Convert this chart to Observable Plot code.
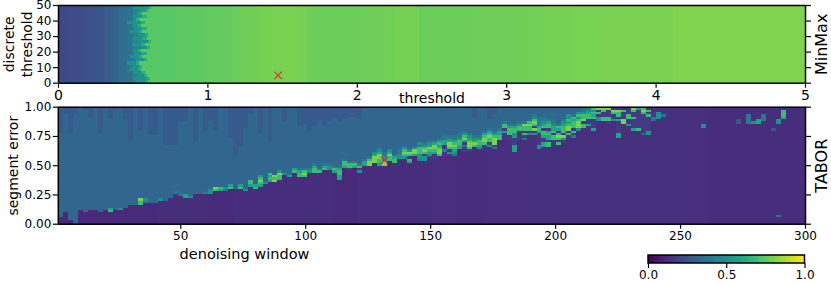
<!DOCTYPE html>
<html>
<head>
<meta charset="utf-8">
<script src="https://cdn.jsdelivr.net/npm/d3@7"></script>
<script src="https://cdn.jsdelivr.net/npm/@observablehq/plot@0.6"></script>
<style>
html,body{margin:0;padding:0;background:#fff}
#root{position:relative;width:831px;height:284px;overflow:hidden}
#root>svg,#root>div{position:absolute;left:0}
</style>
</head>
<body>
<div id="root"></div>
<script>
// ---------- MinMax panel ----------
const minmaxBest = {threshold: 1.47, discrete: 5};
// value per 0.05 step of threshold
const minmaxColumn = [
 .22,.23,.23,.24,.25,.26,.29,.31,.35,.38,.42,.46,
 .74,.74,.74,.745,.75,.75,.75,.755,.76,.76,.765,.77,.775,.78,.785,.79,.795,.80,.80,.80,
 .79,.78,.775,.775,.775,.775,.775,.775,.775,.78,.78,.785,.785,.79,.79,.795,.77,.77,.775,.775,.775,.775,.775,.775,.78,.78,.78,.78,
 .78,.78,.785,.785,.785,.79,.79,.79,.79,.795,.795,.795,.795,.80,.80,.80,.80,.80,.80,.80,.80,.80,.805,.805,.805,.805,.805,.805,.805,.805,
 .805,.805,.805,.805,.805,.805,.805,.805,.805,.805
];
// threshold where the jump to green happens, per row of 2 units (bottom up)
const minmaxEdge = [.58,.59,.57,.55,.53,.54,.52,.57,.54,.56,.53,.59,.55,.60,.56,.58,.54,.56,.53,.55,.52,.56,.54,.58,.60];
// threshold where the teal fringe starts, per row
const minmaxFringe = [.52,.50,.53,.50,.47,.49,.46,.52,.48,.51,.50,.55,.49,.54,.50,.53,.47,.51,.49,.46,.50,.49,.52,.53,.50];

// ---------- TABOR panel, columns of 2 window units ----------
const taborBest = {window: 131.5, error: .545};
const taborEdge = [
 3,5,2,0,6,5,6,6,5,6,5,6,6,7,8,8,8,9,9,9,10,10,11,13,
 12,11,11,13,13,13,13,14,14,14,15,15,15,14,16,15,16,17,18,18,19,21,20,22,
 20,20,22,22,22,23,23,22,19,24,23,24,22,25,25,26,25,25,27,26,28,28,26,29,
 27,27,28,28,29,29,29,29,32,31,31,33,32,33,33,32,36,37,36,31,36,36,38,38,
 32,33,33,34,34,35,37,37,40,41,41,40,44,44,43,44,37,43,42,40,40,38,38,44,
 45,46,50,50,50,50,50,50,50,41,50,50,50,50,50,50,43,50,43,43,43,44,50,40,43,45,50,50,50,50
];
const taborBand = [
 "","","","","","","","","","","76","","5","","","","778","45","","","5","","","4",
 "4","66","5","","","4","55","78","67","45","76","","76","5","677","76","67875","5","6767","878","7785","5","6","76",
 "7764","7874","54","7764","74","764","554","674","667764","6774","1774","674","5174","664","8874","88865","67788654","885544","77865","7764","5544","57875","671785","6885",
 "45577745","55178754","15678654","11678864","78876754","114116644","151788654","456787644","6677544","114168754","17887654","78654","567754","1788764","51778764","41888754","77664","1161774","1177764","666111557764","11117754","41717784","5177874","518178754",
 "55111116764444","6611677176544","771667617764","11771766544","717871674","1581777654","1718876755","4171777674","58887575","77187754","161177654","6111176757","551718","771178","1771118","511781","661111161778","881117","5117711","6111171178","71111111167","311111111787","55111111717","4411",
 "555","4","","","","","","","","55","","","","","","","33","","4444","5","66","444","","3","55","6777","","","",""
];
const bandLevels = {"1":.17,"3":.28,"4":.4,"5":.5,"6":.58,"7":.68,"8":.8};
// purple floor, per five columns
const taborFloor = [.12,.12,.12,.12,.13,.13,.12,.13,.13,.13,.13,.12,.13,.13,.13,.135,.13,.135,.135,.14,.14,.14,.14,.14,.14,.135,.13,.13,.13,.13];
const tealLevel = .33, streakLevel = .28, tealEndsAtColumn = 106;
const streakColumns = [0,1,2,3,5,6,8,10,11,13,14,16,18,19,21,22,23,24,25,27,28,29,30,31,34,35,36,37,38,40,42,45,48,49,50,51,52,53,54,55,56,57,58,59,60,83,86,87];
const streakDepths  = [11,3,11,3,1,4,11,5,1,5,14,10,12,12,16,16,16,6,6,15,1,10,6,10,13,21,17,9,3,11,15,6,8,7,10,8,6,8,6,4,6,5,4,4,5,4,5,3];
const taborSpots = [[144,3,.4]];

const colorStops = d3.range(128).map(i => i / 128);
const colorTicks = [0,.5,1];
const thresholdTicks = [0,1,2,3,4,5];
const discreteTicks = [0,10,20,30,40,50];
const windowTicks = [50,100,150,200,250,300];
const errorTicks = [0,.25,.5,.75,1];

// ---------- build rasters ----------
const mmW = 500, mmH = minmaxEdge.length, minmaxValues = [];
for (let r = 0; r < mmH; r++) for (let i = 0; i < mmW; i++) {
  const t = i / 100;
  let v = minmaxColumn[Math.min(Math.floor(t / .05), minmaxColumn.length - 1)];
  if (t < .65) {
    if (t >= minmaxEdge[r] + .02) v = .74;
    else if (t >= minmaxEdge[r]) v = .62;
    else if (t >= minmaxFringe[r]) v = .5;
    else if (t >= .5) v = .45;
  }
  minmaxValues.push(v);
}
const tbW = taborEdge.length, tbH = 50, grid = [];
for (let c = 0; c < tbW; c++) {
  const col = [], floor = taborFloor[Math.floor(c / 5)];
  const sk = streakColumns.indexOf(c), depth = sk >= 0 ? streakDepths[sk] : 0;
  for (let r = 0; r < tbH; r++) {
    let v = c < tealEndsAtColumn ? tealLevel : floor;
    if (c < tealEndsAtColumn && r >= tbH - depth) v = streakLevel;
    if (r < taborEdge[c]) v = floor;
    else {
      const ch = taborBand[c][r - taborEdge[c]];
      if (ch) v = bandLevels[ch];
    }
    col.push(v);
  }
  grid.push(col);
}
for (const [c, r, v] of taborSpots) grid[c][r] = v;
const taborValues = [];
for (let r = 0; r < tbH; r++) for (let c = 0; c < tbW; c++) taborValues.push(grid[c][r]);

// ---------- drawing ----------
const font = {fontFamily: "'DejaVu Sans', sans-serif", fontSize: "12px", background: "transparent", overflow: "visible"};
const color = {type: "linear", domain: [0, 1], scheme: "viridis"};
const root = document.getElementById("root");
const ink = "#000";
const add = (svg, top) => { svg.style.top = top + "px"; root.appendChild(svg); };

add(Plot.plot({
  width: 831, height: 104, marginTop: 5, marginBottom: 21.3, marginLeft: 58, marginRight: 26,
  style: font, color,
  x: {domain: [0, 5], axis: null}, y: {domain: [0, 50], axis: null},
  marks: [
    Plot.raster(minmaxValues, {width: mmW, height: mmH, x1: 0, x2: 5, y1: 0, y2: 50, imageRendering: "pixelated"}),
    Plot.axisX({anchor: "bottom", ticks: thresholdTicks, tickFormat: d3.format("d"), tickSize: 5, tickPadding: 2, stroke: ink, strokeWidth: 1.2, fill: ink, label: "threshold", labelAnchor: "center", labelArrow: "none", labelOffset: 20, fontSize: 14}),
    Plot.axisY({anchor: "left", ticks: discreteTicks, tickSize: 5, tickPadding: 2, stroke: ink, strokeWidth: 1.2, fill: ink, label: null}),
    Plot.axisY({anchor: "right", ticks: discreteTicks, tickSize: 5, stroke: ink, strokeWidth: 1.2, fill: "none", label: null}),
    Plot.text(["discrete\nthreshold"], {frameAnchor: "left", rotate: -90, dx: -41, fontSize: 14, lineHeight: 1.25, fill: ink, textAnchor: "middle"}),
    Plot.text(["MinMax"], {frameAnchor: "right", rotate: -90, dx: 16.5, fontSize: 16, fill: ink, textAnchor: "middle"}),
    Plot.dot([minmaxBest], {x: "threshold", y: "discrete", symbol: "times", r: 3.5, stroke: "#e8262a", strokeWidth: 1.1}),
    Plot.frame({stroke: ink, strokeWidth: 1.5})
  ]
}), 0);

add(Plot.plot({
  width: 831, height: 164, marginTop: 2.7, marginBottom: 44.3, marginLeft: 57.8, marginRight: 26,
  style: font, color,
  x: {domain: [1, 300], axis: null}, y: {domain: [0, 1], axis: null},
  marks: [
    Plot.raster(taborValues, {width: tbW, height: tbH, x1: 1, x2: 300, y1: 0, y2: 1, imageRendering: "pixelated"}),
    Plot.axisX({anchor: "bottom", ticks: windowTicks, tickSize: 5, tickPadding: 2, stroke: ink, strokeWidth: 1.2, fill: ink, label: null}),
    Plot.axisY({anchor: "left", ticks: errorTicks, tickFormat: d3.format(".2f"), tickSize: 5, tickPadding: 2, stroke: ink, strokeWidth: 1.2, fill: ink, label: null}),
    Plot.axisY({anchor: "right", ticks: errorTicks, tickSize: 5, stroke: ink, strokeWidth: 1.2, fill: "none", label: null}),
    Plot.text(["segment error"], {frameAnchor: "left", rotate: -90, dx: -45, fontSize: 14, fill: ink, textAnchor: "middle"}),
    Plot.text(["TABOR"], {frameAnchor: "right", rotate: -90, dx: 16.5, fontSize: 16, fill: ink, textAnchor: "middle"}),
    Plot.text(["denoising window"], {x: [75.5], frameAnchor: "bottom", dy: 35, fontSize: 14.5, fill: ink}),
    Plot.dot([taborBest], {x: "window", y: "error", symbol: "times", r: 3.5, stroke: "#e8262a", strokeWidth: 1.1}),
    Plot.frame({stroke: ink, strokeWidth: 1.5})
  ]
}), 104);

add(Plot.plot({
  width: 831, height: 40, marginTop: 11, marginBottom: 21, marginLeft: 648, marginRight: 26.5,
  style: font, color,
  x: {domain: [0, 1], axis: null}, y: {domain: [0, 1], axis: null},
  marks: [
    Plot.rect(colorStops, {x1: d => d, x2: d => d + 1 / 128, y1: 0, y2: 1, fill: d => d, shapeRendering: "crispEdges"}),
    Plot.axisX({anchor: "bottom", ticks: colorTicks, tickFormat: d3.format(".1f"), tickSize: 5, tickPadding: 2, stroke: ink, strokeWidth: 1.2, fill: ink, label: null}),
    Plot.rect([0], {x1: 0, x2: 1, y1: 0, y2: 1, fill: "none", stroke: ink, strokeWidth: 1.5})
  ]
}), 244);
</script>
</body>
</html>
